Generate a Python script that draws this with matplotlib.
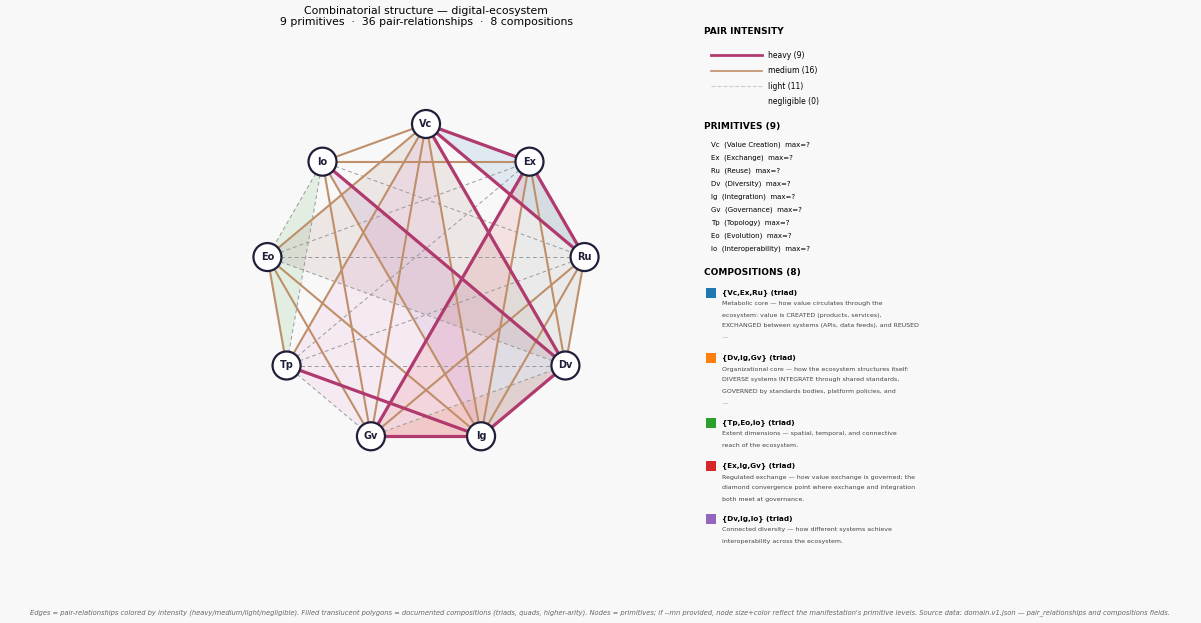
import numpy as np
import matplotlib
matplotlib.use("Agg")
import matplotlib.pyplot as plt
from matplotlib.patches import Polygon, Circle, Rectangle

nodes = ["Vc", "Ex", "Ru", "Dv", "Ig", "Gv", "Tp", "Eo", "Io"]
names = ["Value Creation", "Exchange", "Reuse", "Diversity", "Integration",
         "Governance", "Topology", "Evolution", "Interoperability"]
heavy = [("Vc","Ex"),("Vc","Ru"),("Vc","Dv"),("Ex","Ru"),("Ex","Gv"),
         ("Io","Dv"),("Dv","Ig"),("Ig","Gv"),("Tp","Ig")]
medium = [("Vc","Io"),("Vc","Eo"),("Vc","Tp"),("Vc","Gv"),("Vc","Ig"),
          ("Io","Ex"),("Io","Gv"),("Io","Ig"),("Eo","Tp"),("Eo","Gv"),
          ("Eo","Ig"),("Ex","Ig"),("Ex","Dv"),("Ru","Gv"),("Ru","Ig"),("Ru","Dv")]
light = [("Io","Ru"),("Io","Tp"),("Io","Eo"),("Eo","Ex"),("Eo","Ru"),("Eo","Dv"),
         ("Tp","Ex"),("Tp","Ru"),("Tp","Dv"),("Tp","Gv"),("Gv","Dv")]
comps = [["Vc","Ex","Ru"],["Dv","Ig","Gv"],["Tp","Eo","Io"],["Ex","Ig","Gv"],
         ["Dv","Ig","Io"],["Vc","Eo","Dv"],["Vc","Tp","Gv","Ig"],["Ex","Ru","Dv","Ig"]]
comp_colors = ["#1f77b4","#ff7f0e","#2ca02c","#d62728","#9467bd","#8c564b","#e377c2","#7f7f7f"]
legend_comps = ["{Vc,Ex,Ru} (triad)","{Dv,Ig,Gv} (triad)","{Tp,Eo,Io} (triad)",
                "{Ex,Ig,Gv} (triad)","{Dv,Ig,Io} (triad)"]
legend_desc = [
    ["Metabolic core — how value circulates through the",
     "ecosystem: value is CREATED (products, services),",
     "EXCHANGED between systems (APIs, data feeds), and REUSED", "..."],
    ["Organizational core — how the ecosystem structures itself:",
     "DIVERSE systems INTEGRATE through shared standards,",
     "GOVERNED by standards bodies, platform policies, and", "..."],
    ["Extent dimensions — spatial, temporal, and connective",
     "reach of the ecosystem."],
    ["Regulated exchange — how value exchange is governed; the",
     "diamond convergence point where exchange and integration",
     "both meet at governance."],
    ["Connected diversity — how different systems achieve",
     "interoperability across the ecosystem."],
]

W, H = 1201, 623
fig = plt.figure(figsize=(W/100, H/100), dpi=100, facecolor="#f8f8f8")
ax = fig.add_axes([0, 0, 1, 1])
ax.set_xlim(0, W); ax.set_ylim(H, 0); ax.axis("off")
ax.set_facecolor("#f8f8f8")

cx, cy, R = 426, 285, 161
pos = {}
for i, n in enumerate(nodes):
    a = np.deg2rad(90 - 40*i)
    pos[n] = (cx + R*np.cos(a), cy - R*np.sin(a))

for c, col in zip(comps, comp_colors):
    ax.add_patch(Polygon([pos[n] for n in c], closed=True, fc=col, alpha=0.11, ec="none", zorder=1))

for a, b in light:
    ax.plot(*zip(pos[a], pos[b]), color="#999999", lw=0.7, ls=(0, (4, 3)), zorder=2)
for a, b in medium:
    ax.plot(*zip(pos[a], pos[b]), color="#bf8f6a", lw=1.5, zorder=3)
for a, b in heavy:
    ax.plot(*zip(pos[a], pos[b]), color="#b03a6e", lw=2.3, zorder=4)
for n in nodes:
    x, y = pos[n]
    ax.add_patch(Circle((x, y), 14, fc="white", ec="#1f1f3a", lw=1.6, zorder=5))
    ax.text(x, y, n, ha="center", va="center", fontsize=7, fontweight="bold", color="#1f1f3a", zorder=6)

ax.text(426, 11, "Combinatorial structure — digital-ecosystem", ha="center", va="center", fontsize=7.8)
ax.text(426, 22, "9 primitives  ·  36 pair-relationships  ·  8 compositions", ha="center", va="center", fontsize=7.8)

lx = 704
ax.text(lx, 32, "PAIR INTENSITY", fontsize=6.5, fontweight="bold", va="center")
items = [("#b03a6e", 2, "-", f"heavy ({len(heavy)})"), ("#bf8f6a", 1.2, "-", f"medium ({len(medium)})"),
         ("#cccccc", 0.8, "--", f"light ({len(light)})"), (None, 0, "-", "negligible (0)")]
for k, (col, lw, ls, lab) in enumerate(items):
    y = 55 + 15.6*k
    if col:
        ax.plot([711, 762], [y, y], color=col, lw=lw, ls=ls)
    ax.text(768, y, lab, fontsize=5.5, va="center")
ax.text(lx, 126, "PRIMITIVES (9)", fontsize=6.5, fontweight="bold", va="center")
for k, (n, nm) in enumerate(zip(nodes, names)):
    ax.text(711, 145 + 13*k, f"{n}  ({nm})  max=?", fontsize=5, va="center")
ax.text(lx, 272, "COMPOSITIONS (8)", fontsize=6.5, fontweight="bold", va="center")
ys = [293, 358, 423, 466, 519]
for k, y in enumerate(ys):
    ax.add_patch(Rectangle((706, y-5), 10, 10, fc=comp_colors[k], ec="none"))
    ax.text(722, y, legend_comps[k], fontsize=5.2, fontweight="bold", va="center")
    for j, line in enumerate(legend_desc[k]):
        ax.text(722, y + 11 + 11*j, line, fontsize=4.5, va="center", color="#444444")

ax.text(600, 613, "Edges = pair-relationships colored by intensity (heavy/medium/light/negligible). Filled translucent polygons = documented compositions (triads, quads, higher-arity). Nodes = primitives; if --mn provided, node size+color reflect the manifestation's primitive levels. Source data: domain.v1.json — pair_relationships and compositions fields.",
        ha="center", va="center", fontsize=4.9, style="italic", color="#666666")
fig.savefig("out.png", dpi=100, facecolor=fig.get_facecolor())
